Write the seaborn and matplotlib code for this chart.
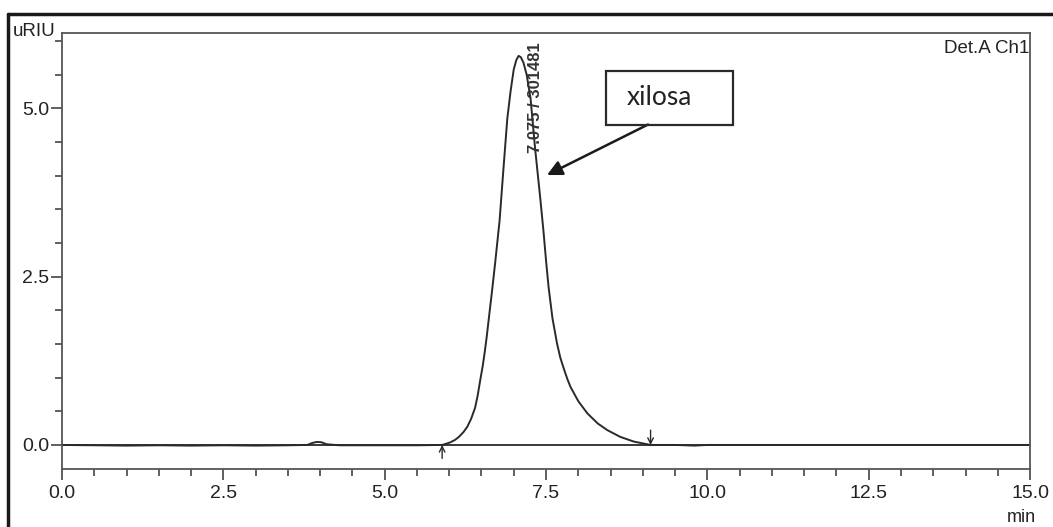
import matplotlib
matplotlib.use("Agg")
import matplotlib.pyplot as plt
import seaborn as sns
import numpy as np
import pandas as pd
from matplotlib.lines import Line2D
from matplotlib.patches import Rectangle
from matplotlib.ticker import MultipleLocator

# chromatogram (min, uRIU)
time = [0.0, 0.5, 1.0, 1.5, 2.0, 2.5, 3.0, 3.5, 3.8, 3.88, 3.95, 4.02, 4.1, 4.3, 5.0, 5.5,
        5.89, 5.96, 6.02, 6.09, 6.15, 6.22, 6.28, 6.34, 6.4, 6.44, 6.48, 6.52, 6.55, 6.58,
        6.61, 6.66, 6.71, 6.78, 6.84, 6.90, 6.95, 6.98, 7.00, 7.04, 7.075, 7.11, 7.15, 7.20,
        7.26, 7.33, 7.41, 7.46, 7.50, 7.54, 7.60, 7.67, 7.72, 7.78, 7.83, 7.88, 8.0, 8.14,
        8.3, 8.45, 8.65, 8.86, 9.12, 9.5, 9.8, 10.0, 11.0, 12.0, 13.0, 14.0, 15.0]
signal = [0.0, -0.005, -0.01, -0.005, -0.01, -0.005, -0.01, -0.005, 0.0, 0.03, 0.045, 0.04, 0.01, -0.005, -0.005, -0.005,
          0.0, 0.02, 0.04, 0.075, 0.12, 0.19, 0.27, 0.39, 0.55, 0.73, 0.96, 1.18, 1.38, 1.6,
          1.85, 2.26, 2.69, 3.33, 4.1, 4.85, 5.25, 5.45, 5.58, 5.72, 5.78, 5.76, 5.68, 5.50,
          5.15, 4.41, 3.67, 3.18, 2.74, 2.34, 1.88, 1.51, 1.3, 1.12, 0.98, 0.86, 0.65, 0.47,
          0.32, 0.22, 0.12, 0.05, 0.0, 0.0, -0.01, 0.0, 0.0, 0.0, 0.0, 0.0, 0.0]
peak_rt = 7.075
peak_area = 301481
peak_start = 5.89
peak_end = 9.12

df = pd.DataFrame({"time": time, "signal": signal})

sns.set_style("white")
plt.rcParams['font.family'] = ['Liberation Sans Narrow', 'Liberation Sans', 'DejaVu Sans']

fig = plt.figure(figsize=(10.53, 5.27), dpi=100)
ax = fig.add_axes([0.0589, 0.1101, 0.9193, 0.8273])

dark = "#2a2a2a"
sns.lineplot(data=df, x="time", y="signal", ax=ax, color=dark, lw=1.4)
ax.axhline(0, color=dark, lw=1.3)

ax.set_xlim(0, 15)
ax.set_ylim(-0.357, 6.12)
ax.set_xticks([0, 2.5, 5, 7.5, 10, 12.5, 15])
ax.set_xticklabels(["0.0", "2.5", "5.0", "7.5", "10.0", "12.5", "15.0"])
ax.set_yticks([0, 2.5, 5])
ax.set_yticklabels(["0.0", "2.5", "5.0"])
ax.xaxis.set_minor_locator(MultipleLocator(0.5))
ax.yaxis.set_minor_locator(MultipleLocator(0.5))
ax.tick_params(which="major", direction="out", length=8, width=1.2, color="#444444",
               labelsize=14, labelcolor="#222222")
ax.tick_params(which="minor", direction="out", length=5, width=1.2, color="#444444")
ax.tick_params(axis="y", which="major", pad=1)
ax.tick_params(axis="x", which="major", pad=3.5)
ax.tick_params(bottom=True, left=True, which="both")
for s in ax.spines.values():
    s.set_color("#555555")
    s.set_linewidth(1.3)
ax.set_xlabel("")
ax.set_ylabel("")

# header texts
fig.text(13 / 1053, 1 - 36 / 527, "uRIU", fontsize=13.5, color="#222222", ha="left", va="baseline")
ax.text(0.9995, 0.985, "Det.A Ch1", transform=ax.transAxes, fontsize=13.5, color="#222222",
        ha="right", va="top")
fig.text(1021 / 1053, 1 - 526 / 527, "min", fontsize=13, color="#222222", ha="center", va="bottom")

# peak label
ax.text(7.34, 4.33, f"{peak_rt:.3f} / {peak_area}", rotation=90, fontsize=12, fontweight="bold",
        color="#333333", ha="center", va="bottom")

# integration marks
ax.annotate("", xy=(peak_start, 0), xytext=(peak_start, -0.2),
            arrowprops=dict(arrowstyle="->", color=dark, lw=1, shrinkA=0, shrinkB=0))
ax.annotate("", xy=(peak_end, 0), xytext=(peak_end, 0.22),
            arrowprops=dict(arrowstyle="->", color=dark, lw=1, shrinkA=0, shrinkB=0))

# xilosa callout
ax.add_patch(Rectangle((8.43, 4.76), 1.97, 0.80, fill=False, edgecolor=dark, lw=1.6, zorder=5))
ax.text(8.755, 5.16, "xilosa", fontsize=19, family="Lato", color="#222222", ha="left", va="center")
ax.annotate("", xy=(7.515, 4.01), xytext=(9.08, 4.76),
            arrowprops=dict(arrowstyle="-|>,head_length=0.9,head_width=0.45", color="#1a1a1a",
                            lw=1.8, shrinkA=0, shrinkB=0))

# outer frame of the page
fig.add_artist(Line2D([8 / 1053, 8 / 1053], [0, 1 - 14 / 527], transform=fig.transFigure,
                      color="#1a1a1a", lw=2.5))
fig.add_artist(Line2D([8 / 1053, 1], [1 - 14 / 527, 1 - 14 / 527], transform=fig.transFigure,
                      color="#1a1a1a", lw=2.5))

fig.savefig("out.png", dpi=100)
